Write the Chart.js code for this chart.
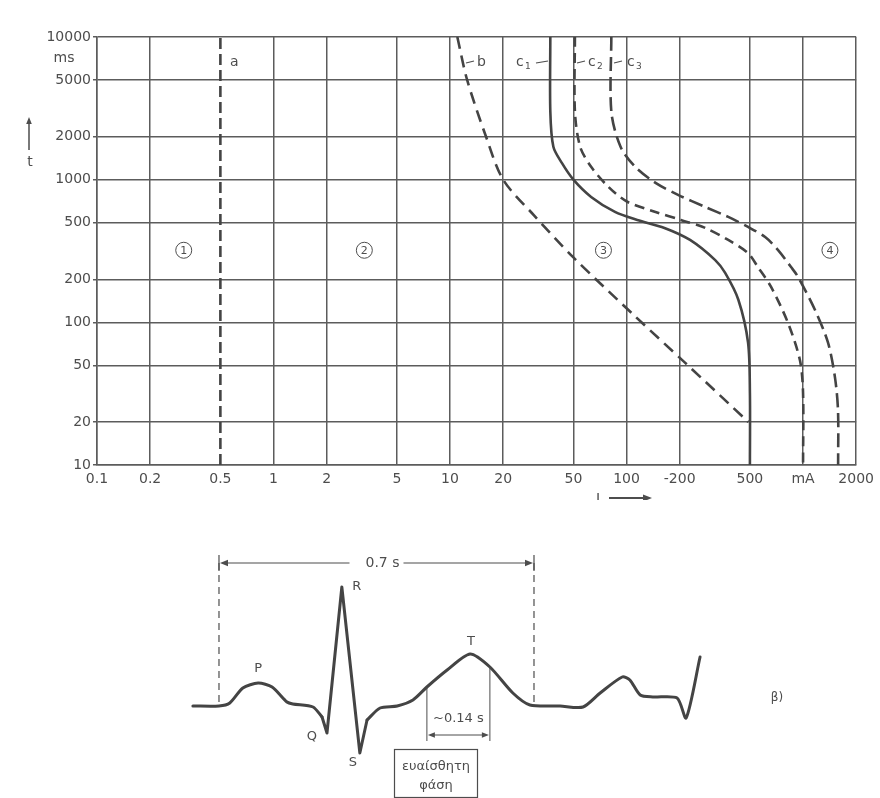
<!DOCTYPE html>
<html>
<head>
<meta charset="utf-8">
<script src="https://cdn.jsdelivr.net/npm/chart.js@4.4.1/dist/chart.umd.min.js"></script>
<style>
  body { margin: 0; background: #fff; }
  #wrap { position: relative; width: 880px; height: 798px; }
  #topChart { position: absolute; left: 0; top: 0; }
  #ecgChart { position: absolute; left: 0; top: 500px; }
</style>
</head>
<body>
<div id="wrap">
  <canvas id="topChart" width="880" height="500"></canvas>
  <canvas id="ecgChart" width="880" height="298"></canvas>
</div>
<script>
// axis ticks (current I in mA, time t in ms)
const xTicks = [0.1, 0.2, 0.5, 1, 2, 5, 10, 20, 50, 100, 200, 500, 1000, 2000];
const xTickLabels = ['0.1', '0.2', '0.5', '1', '2', '5', '10', '20', '50', '100', '-200', '500', 'mA', '2000'];
const yTicks = [10, 20, 50, 100, 200, 500, 1000, 2000, 5000, 10000];

// curve a
const aI = [0.5, 0.5];
const aT = [10, 10000];
// curve b
const bI = [11, 12.5, 16, 20, 30, 50, 112, 215, 490];
const bT = [10000, 5000, 2000, 1000, 560, 285, 110, 52, 20];
// curve c1
const c1I = [37, 37, 38.5, 43, 50, 63, 86, 115, 164, 229, 318, 362, 430, 488, 500, 500];
const c1T = [10000, 3000, 1700, 1310, 1000, 757, 594, 522, 459, 378, 273, 222, 144, 72, 32, 10];
// curve c2
const c2I = [51, 51, 54.6, 63, 79, 101, 146, 203, 279, 377, 488, 555, 659, 822, 961, 1000, 1000];
const c2T = [10000, 3000, 1700, 1230, 890, 700, 594, 522, 459, 378, 306, 244, 177, 99, 54, 32, 10];
// curve c3
const c3I = [82, 82, 92.5, 112, 146, 197, 279, 377, 488, 610, 722, 855, 937, 1169, 1385, 1517, 1578, 1580];
const c3T = [10000, 3000, 1700, 1230, 950, 780, 644, 548, 466, 396, 321, 244, 208, 122, 72, 41, 24, 10];

// ECG trace (time s, amplitude mV)
const ecgT = [-0.058, 0, 0.024, 0.053, 0.087, 0.118, 0.151, 0.164, 0.209, 0.229, 0.240, 0.273, 0.313,
  0.329, 0.358, 0.396, 0.431, 0.462, 0.507, 0.558, 0.602, 0.653, 0.691, 0.758, 0.809, 0.847, 0.896, 0.913,
  0.936, 0.964, 1.018, 1.038, 1.069];
const ecgV = [0, 0, 0.03, 0.18, 0.23, 0.19, 0.04, 0.02, -0.01, -0.11, -0.27, 1.19, -0.47,
  -0.14, -0.02, 0, 0.06, 0.19, 0.36, 0.52, 0.39, 0.13, 0.01, 0, -0.01, 0.13, 0.29, 0.26,
  0.11, 0.09, 0.08, -0.12, 0.49];
// QRS complex drawn with straight strokes (index range into the arrays above)
const qrsFrom = 9;
const qrsTo = 13;
const waveNames = ['P', 'Q', 'R', 'S', 'T'];
const waveT = [0.087, 0.240, 0.273, 0.313, 0.558];
const waveV = [0.23, -0.27, 1.19, -0.47, 0.52];
const cycleSpan = [0, 0.7];
const vulnerableSpan = [0.462, 0.602];

const ink = '#444';
const gridInk = '#5c5c5c';
const textInk = '#4d4d4d';
const fontFam = '"DejaVu Sans", sans-serif';

function pts(xs, ys) {
  return xs.map((x, i) => ({ x: x, y: ys[i] }));
}

function curve(xs, ys, dash, tension) {
  return {
    data: pts(xs, ys),
    showLine: true,
    borderColor: ink,
    borderWidth: 2.6,
    borderDash: dash,
    pointRadius: 0,
    tension: tension,
    fill: false
  };
}

function trace(from, to, tension) {
  return {
    data: pts(ecgT.slice(from, to + 1), ecgV.slice(from, to + 1)),
    showLine: true,
    borderColor: ink,
    borderWidth: 3,
    borderJoinStyle: 'round',
    borderCapStyle: 'round',
    pointRadius: 0,
    tension: tension,
    fill: false
  };
}

function arrowHead(ctx, x, y, dx, dy, size) {
  const len = Math.hypot(dx, dy);
  const ux = dx / len, uy = dy / len;
  ctx.beginPath();
  ctx.moveTo(x, y);
  ctx.lineTo(x - ux * size - uy * size * 0.4, y - uy * size + ux * size * 0.4);
  ctx.lineTo(x - ux * size + uy * size * 0.4, y - uy * size - ux * size * 0.4);
  ctx.closePath();
  ctx.fill();
}

const topLabels = {
  id: 'topLabels',
  afterDraw(chart) {
    const ctx = chart.ctx;
    const xs = chart.scales.x, ys = chart.scales.y;
    ctx.save();
    ctx.fillStyle = textInk;
    ctx.strokeStyle = textInk;
    ctx.textAlign = 'center';
    ctx.textBaseline = 'middle';
    ctx.font = '14px ' + fontFam;
    ctx.fillText('ms', 64, 58);

    // t axis arrow
    ctx.lineWidth = 1.5;
    ctx.beginPath();
    ctx.moveTo(29, 150);
    ctx.lineTo(29, 123);
    ctx.stroke();
    arrowHead(ctx, 29, 117, 0, -1, 7);
    ctx.fillText('t', 30, 162);

    // I axis arrow
    ctx.fillText('I', 598, 499);
    ctx.lineWidth = 1.8;
    ctx.beginPath();
    ctx.moveTo(609, 498);
    ctx.lineTo(644, 498);
    ctx.stroke();
    arrowHead(ctx, 652, 498, 1, 0, 9);

    ctx.font = '13px ' + fontFam;
    ctx.fillText('α)', 452, 525);

    // zone numbers
    const zones = [['1', 0.31], ['2', 3.27], ['3', 74], ['4', 1420]];
    const zy = ys.getPixelForValue(320);
    zones.forEach(z => {
      const zx = xs.getPixelForValue(z[1]);
      ctx.lineWidth = 1;
      ctx.beginPath();
      ctx.arc(zx, zy, 8, 0, Math.PI * 2);
      ctx.stroke();
      ctx.font = '11px ' + fontFam;
      ctx.fillText(z[0], zx, zy + 0.5);
    });

    // curve names
    ctx.textAlign = 'left';
    ctx.lineWidth = 1.2;
    const names = [
      ['a', '', 230, null],
      ['b', '', 477, [466, 474]],
      ['c', '1', 516, [536, 548]],
      ['c', '2', 588, [577, 585]],
      ['c', '3', 627, [614, 622]]
    ];
    names.forEach(n => {
      ctx.font = '14px ' + fontFam;
      ctx.fillText(n[0], n[2], 62);
      if (n[1]) {
        ctx.font = '9px ' + fontFam;
        ctx.fillText(n[1], n[2] + 9, 67);
      }
      if (n[3]) {
        ctx.beginPath();
        ctx.moveTo(n[3][0], 63);
        ctx.lineTo(n[3][1], 61);
        ctx.stroke();
      }
    });
    ctx.restore();
  }
};

new Chart(document.getElementById('topChart'), {
  type: 'scatter',
  data: {
    datasets: [
      curve(aI, aT, [11, 5], 0),
      curve(bI, bT, [12, 7], 0.3),
      curve(c1I, c1T, [], 0.3),
      curve(c2I, c2T, [10, 6], 0.3),
      curve(c3I, c3T, [14, 6], 0.3)
    ]
  },
  options: {
    responsive: false,
    animation: false,
    layout: { padding: { left: 0, top: 37, right: 22, bottom: 0 } },
    plugins: { legend: { display: false }, tooltip: { enabled: false } },
    scales: {
      x: {
        type: 'logarithmic',
        min: 0.1,
        max: 2000,
        afterBuildTicks: s => { s.ticks = xTicks.map(v => ({ value: v })); },
        afterFit: s => { s.height = 35; },
        ticks: {
          autoSkip: false,
          maxRotation: 0,
          padding: 6,
          color: textInk,
          font: { family: fontFam, size: 14 },
          callback: (v, i) => xTickLabels[i]
        },
        grid: {
          color: c => (c.tick && c.tick.value === 0.5 ? 'rgba(0,0,0,0)' : gridInk),
          lineWidth: 1.5,
          drawTicks: false
        },
        border: { color: gridInk, width: 1.5 }
      },
      y: {
        type: 'logarithmic',
        min: 10,
        max: 10000,
        afterBuildTicks: s => { s.ticks = yTicks.map(v => ({ value: v })); },
        afterFit: s => { s.width = 97; },
        ticks: {
          autoSkip: false,
          padding: 2,
          color: textInk,
          font: { family: fontFam, size: 14 },
          callback: v => String(v)
        },
        grid: { color: gridInk, lineWidth: 1.5, tickLength: 4 },
        border: { color: gridInk, width: 1.5 }
      }
    }
  },
  plugins: [topLabels]
});

const ecgLabels = {
  id: 'ecgLabels',
  afterDraw(chart) {
    const ctx = chart.ctx;
    const xs = chart.scales.x, ys = chart.scales.y;
    const base = ys.getPixelForValue(0);
    const x0 = xs.getPixelForValue(cycleSpan[0]);
    const x1 = xs.getPixelForValue(cycleSpan[1]);
    const dimY = 63;
    ctx.save();
    ctx.strokeStyle = textInk;
    ctx.fillStyle = textInk;
    ctx.lineWidth = 1.2;

    // dashed verticals of the 0.7 s span
    ctx.setLineDash([7, 5]);
    [x0, x1].forEach(x => {
      ctx.beginPath();
      ctx.moveTo(x, dimY);
      ctx.lineTo(x, base);
      ctx.stroke();
    });
    ctx.setLineDash([]);
    [x0, x1].forEach(x => {
      ctx.beginPath();
      ctx.moveTo(x, dimY - 8);
      ctx.lineTo(x, dimY + 8);
      ctx.stroke();
    });
    ctx.textAlign = 'center';
    ctx.textBaseline = 'middle';
    ctx.font = '14px ' + fontFam;
    const mid = (x0 + x1) / 2;
    const tw = ctx.measureText('0.7 s').width;
    ctx.beginPath();
    ctx.moveTo(x0 + 6, dimY);
    ctx.lineTo(mid - tw / 2 - 10, dimY);
    ctx.moveTo(mid + tw / 2 + 10, dimY);
    ctx.lineTo(x1 - 6, dimY);
    ctx.stroke();
    arrowHead(ctx, x0 + 1, dimY, -1, 0, 8);
    arrowHead(ctx, x1 - 1, dimY, 1, 0, 8);
    ctx.fillText('0.7 s', mid + 6, dimY);

    // wave names
    const offs = [[0, -14], [-15, 4], [15, 0], [-7, 10], [1, -12]];
    ctx.font = '13px ' + fontFam;
    waveNames.forEach((n, i) => {
      ctx.fillText(n, xs.getPixelForValue(waveT[i]) + offs[i][0], ys.getPixelForValue(waveV[i]) + offs[i][1]);
    });

    // vulnerable phase
    const v0 = xs.getPixelForValue(vulnerableSpan[0]);
    const v1 = xs.getPixelForValue(vulnerableSpan[1]);
    ctx.lineWidth = 1;
    [[v0, 0.19], [v1, 0.39]].forEach(p => {
      ctx.beginPath();
      ctx.moveTo(p[0], ys.getPixelForValue(p[1]));
      ctx.lineTo(p[0], 241);
      ctx.stroke();
    });
    ctx.fillText('~0.14 s', (v0 + v1) / 2, 219);
    ctx.beginPath();
    ctx.moveTo(v0 + 5, 235);
    ctx.lineTo(v1 - 5, 235);
    ctx.stroke();
    arrowHead(ctx, v0 + 1, 235, -1, 0, 7);
    arrowHead(ctx, v1 - 1, 235, 1, 0, 7);

    ctx.lineWidth = 1.2;
    ctx.strokeRect(394.5, 249.5, 83, 48);
    ctx.font = '13px ' + fontFam;
    ctx.fillText('ευαίσθητη', 436, 267);
    ctx.fillText('φάση', 436, 286);

    ctx.font = '12px ' + fontFam;
    ctx.fillText('β)', 777, 198);
    ctx.restore();
  }
};

new Chart(document.getElementById('ecgChart'), {
  type: 'scatter',
  data: {
    datasets: [
      trace(0, qrsFrom, 0.25),
      trace(qrsFrom, qrsTo, 0),
      trace(qrsTo, ecgT.length - 1, 0.25)
    ]
  },
  options: {
    responsive: false,
    animation: false,
    layout: { padding: { left: 150, right: 130, top: 40, bottom: 8 } },
    plugins: { legend: { display: false }, tooltip: { enabled: false } },
    scales: {
      x: { type: 'linear', display: false, min: -0.1533, max: 1.18 },
      y: { type: 'linear', display: false, min: -0.84, max: 1.66 }
    }
  },
  plugins: [ecgLabels]
});
</script>
</body>
</html>
